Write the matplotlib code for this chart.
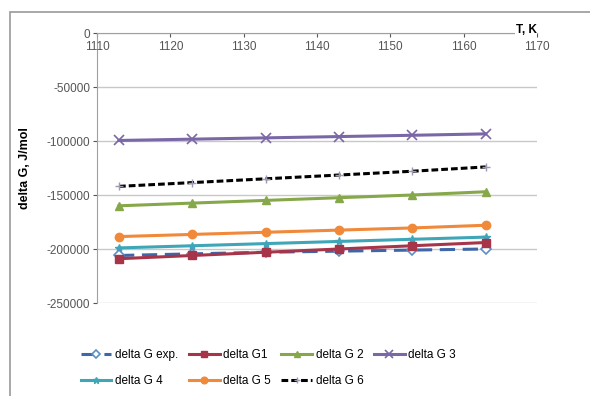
import matplotlib.pyplot as plt
from matplotlib.patches import Rectangle

plt.rcParams['font.family'] = ['Liberation Sans', 'DejaVu Sans']
plt.rcParams['axes.unicode_minus'] = False

# temperatures, K
T = [1113, 1123, 1133, 1143, 1153, 1163]

# Gibbs energy, J/mol
dG_exp = [-206000, -204500, -203000, -202000, -201000, -200000]
dG1 = [-209000, -206000, -203000, -200000, -197000, -194000]
dG2 = [-160000, -157500, -155000, -152500, -150000, -147000]
dG3 = [-99500, -98300, -97100, -95900, -94700, -93400]
dG4 = [-199000, -197000, -195000, -193000, -191000, -189000]
dG5 = [-188500, -186500, -184500, -182500, -180500, -178000]
dG6 = [-142000, -138500, -135000, -131500, -128000, -124000]

labels = ["delta G exp.", "delta G1", "delta G 2", "delta G 3",
          "delta G 4", "delta G 5", "delta G 6"]

yticks = [0, -50000, -100000, -150000, -200000, -250000]
xticks = [1110, 1120, 1130, 1140, 1150, 1160, 1170]

fs = 8.5
fig = plt.figure(figsize=(5.9, 3.96), dpi=100)
ax = fig.add_axes([97/590, 1 - 303/396, 440/590, 270/396])

# chart border (runs off right/bottom)
fig.patches.append(Rectangle((10/590, -0.05), 1.0, 1 - 12/396 + 0.05,
                             transform=fig.transFigure, fill=False,
                             edgecolor='#9a9a9a', lw=1.2, zorder=0))

lw = 2.2
h = []
h += ax.plot(T, dG_exp, color='#3f66a6', lw=lw, ls=(0, (5, 2.5)), marker='D', ms=5,
             mfc='white', mec='#5b8fc7', mew=1.2, label=labels[0], zorder=3)
h += ax.plot(T, dG1, color='#a6354a', lw=lw, marker='s', ms=6, label=labels[1], zorder=4)
h += ax.plot(T, dG2, color='#86a84a', lw=lw, marker='^', ms=6, label=labels[2])
h += ax.plot(T, dG3, color='#7a68a6', lw=lw, marker='x', ms=7, mew=1.2, label=labels[3])
h += ax.plot(T, dG4, color='#3fa6b8', lw=lw, marker='*', ms=6, label=labels[4])
h += ax.plot(T, dG5, color='#f0893a', lw=lw, marker='o', ms=6, label=labels[5])
h += ax.plot(T, dG6, color='black', lw=lw, ls=(0, (2.2, 1)), marker='+', ms=6,
             mec='#9a9ab0', label=labels[6])

ax.set_xlim(1110, 1170)
ax.set_ylim(-250000, 0)
ax.set_xticks(xticks)
ax.set_yticks(yticks)
ax.tick_params(labelsize=fs, colors='#555555', length=3, pad=2)
ax.tick_params(axis='x', direction='in')
ax.grid(axis='y', color='#c8c8c8', lw=1)
ax.set_axisbelow(True)

for s in ['right', 'bottom']:
    ax.spines[s].set_visible(False)
ax.spines['left'].set_color('#a0a0a0')
ax.spines['top'].set_color('#a0a0a0')
ax.xaxis.set_ticks_position('top')
ax.tick_params(axis='x', labeltop=False, labelbottom=False)
for x in xticks:
    ax.text(x, -13000, str(x), ha='center', va='center', fontsize=fs,
            color='#555555')

ax.text(1168.5, 2500, "T, K", fontsize=fs, fontweight='bold', ha='center',
        va='center', bbox=dict(fc='white', ec='none', pad=0.5))
fig.text(25/590, 1 - 168/396, "delta G, J/mol", rotation=90, fontsize=9,
         fontweight='bold', ha='center', va='center')

# legend filled row by row (matplotlib fills columns first)
order = [0, 4, 1, 5, 2, 6, 3]
fig.legend([h[i] for i in order], [labels[i] for i in order],
           loc='upper left', bbox_to_anchor=(76/590, 1 - 344/396), ncol=4,
           frameon=False, fontsize=fs, handlelength=2.6, handletextpad=0.3,
           columnspacing=0.9, labelspacing=1.2, borderaxespad=0,
           markerscale=0.8)

fig.savefig('out.png', dpi=100)
